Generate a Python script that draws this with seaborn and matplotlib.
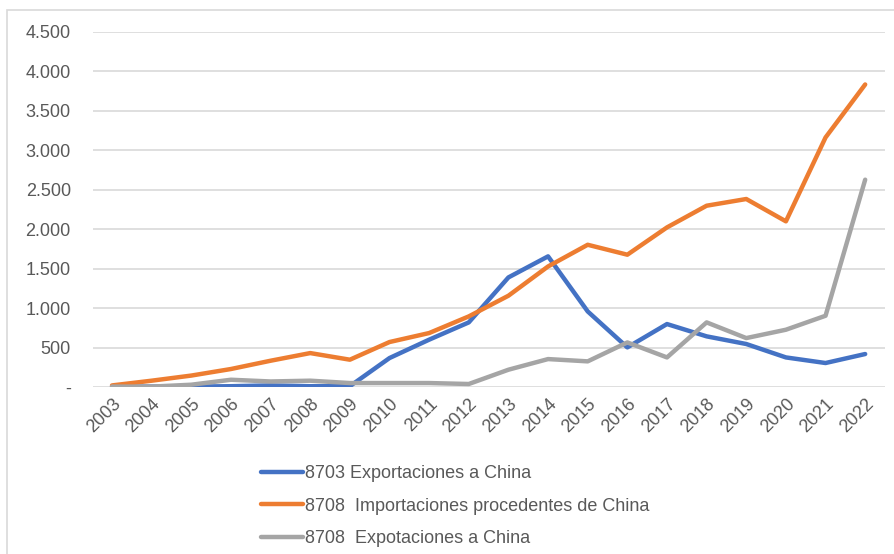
import pandas as pd
import seaborn as sns
import matplotlib.pyplot as plt
from matplotlib.patches import Rectangle
from matplotlib.ticker import FuncFormatter

years = list(range(2003, 2023))

exp_8703 = [5, 5, 5, 10, 20, 10, 10, 367, 600, 819, 1389, 1656, 958, 502,
            798, 642, 545, 375, 304, 418]
imp_8708 = [20, 80, 145, 228, 333, 430, 346, 570, 684, 895, 1157, 1528,
            1803, 1677, 2023, 2298, 2383, 2100, 3163, 3835]
exp_8708 = [5, 5, 29, 92, 70, 80, 50, 50, 50, 38, 219, 354, 325, 565,
            375, 819, 620, 726, 903, 2628]

labels = ["8703 Exportaciones a China",
          "8708  Importaciones procedentes de China",
          "8708  Expotaciones a China"]
colors = ["#4472C4", "#ED7D31", "#A5A5A5"]

df = pd.DataFrame({"year": years, labels[0]: exp_8703,
                   labels[1]: imp_8708, labels[2]: exp_8708})
long = df.melt(id_vars="year", var_name="serie", value_name="valor")

sns.set_style("white")
plt.rcParams["font.family"] = ["Liberation Sans", "DejaVu Sans"]
text_color = "#595959"

fig = plt.figure(figsize=(8.95, 5.54), dpi=100)
fig.patches.append(Rectangle((7 / 895, -0.1), 1.2, (554 - 10) / 554 + 0.1,
                             transform=fig.transFigure, fill=False,
                             edgecolor="#D9D9D9", linewidth=1.2))
ax = fig.add_axes([93 / 895, 167 / 554, 792 / 895, 355 / 554])

sns.lineplot(data=long, x="year", y="valor", hue="serie",
             palette=dict(zip(labels, colors)), linewidth=3.2, ax=ax,
             legend=False)

ax.set_xlim(2002.52, 2022.5)
ax.set_ylim(0, 4500)
ax.set_yticks(range(0, 4501, 500))
ax.yaxis.set_major_formatter(FuncFormatter(
    lambda v, p: "-" if v == 0 else f"{int(v):,}".replace(",", ".")))
ax.set_xticks(years)
ax.set_xticklabels([str(y) for y in years], rotation=45, ha="right",
                   rotation_mode="anchor")
ax.tick_params(axis="both", length=0, labelsize=13, colors=text_color)
ax.tick_params(axis="y", pad=16)
ax.tick_params(axis="x", pad=6)
ax.grid(axis="y", color="#D9D9D9", linewidth=1.2)
ax.set_axisbelow(True)
for s in ax.spines.values():
    s.set_visible(False)
ax.set_xlabel("")
ax.set_ylabel("")

handles = [plt.Line2D([], [], color=c, linewidth=3.2) for c in colors]
fig.legend(handles, labels, loc="upper left",
           bbox_to_anchor=(245 / 895, 1 - 449 / 554), frameon=False,
           fontsize=13, labelcolor=text_color, handlelength=2.3,
           handletextpad=0.1, labelspacing=0.85)

fig.savefig("out.png", dpi=100, facecolor="white")
